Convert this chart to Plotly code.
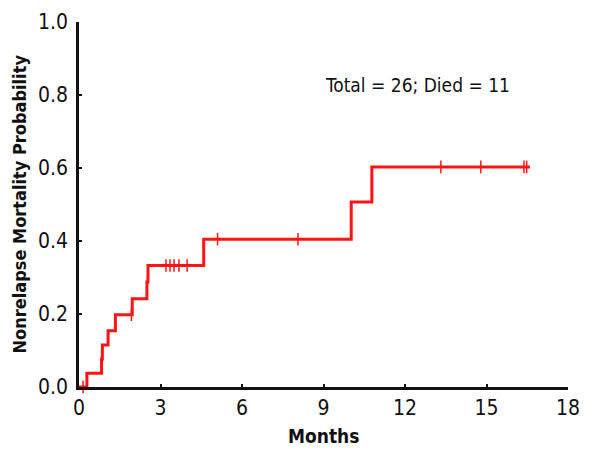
import plotly.graph_objects as go

# Step curve (event times in months, cumulative nonrelapse mortality probability)
event_months = [0, 0.29, 0.83, 0.86, 1.07, 1.34, 1.96, 2.50, 2.54, 4.59, 10.02, 10.78, 16.6]
event_prob = [0, 0.038, 0.077, 0.115, 0.154, 0.198, 0.242, 0.288, 0.333, 0.405, 0.507, 0.603, 0.603]

# Censored observations (months)
censor_months = [0.15, 1.93, 3.2, 3.35, 3.5, 3.68, 3.98, 5.10, 8.06, 13.32, 14.79, 16.38, 16.48]

x_ticks = [0, 3, 6, 9, 12, 15, 18]
y_ticks = [0.0, 0.2, 0.4, 0.6, 0.8, 1.0]
annotation_text = "Total = 26; Died = 11"
x_title = "Months"
y_title = "Nonrelapse Mortality Probability"


def level_at(t):
    val = event_prob[0]
    for et, ep in zip(event_months, event_prob):
        if et <= t:
            val = ep
    return val


censor_prob = [level_at(t) for t in censor_months]

RED = "#ff1414"
FONT = "Liberation Sans Narrow, DejaVu Sans Condensed, Arial Narrow, sans-serif"

# page has an 8px body margin; figure coordinates below are offset accordingly
ML, MT, PW, PH = 71, 14, 489, 365
W, H = 602, 459
MR = W - ML - PW
MB = H - MT - PH

fig = go.Figure()
fig.add_trace(go.Scatter(
    x=event_months, y=event_prob, mode="lines", line_shape="hv",
    line=dict(color=RED, width=3), cliponaxis=False, showlegend=False,
    hoverinfo="skip"))
fig.add_trace(go.Scatter(
    x=censor_months, y=censor_prob, mode="markers",
    marker=dict(symbol="line-ns", size=9, line=dict(color=RED, width=1.5)),
    cliponaxis=False, showlegend=False))

fig.add_annotation(x=12.45, y=0.828, xref="x", yref="y", text=annotation_text,
                   showarrow=False, xanchor="center", yanchor="middle",
                   font=dict(family=FONT, size=19, color="#111"))

# axis titles as annotations for exact placement (pixel targets converted to paper coords)
fig.add_annotation(x=0.5, y=-((435.5 - 8) - (MT + PH)) / PH, xref="paper", yref="paper",
                   text=f"<b>{x_title}</b>", showarrow=False,
                   xanchor="center", yanchor="middle",
                   font=dict(family=FONT, size=19, color="#111"))
fig.add_annotation(x=-(ML - (19 - 8)) / PW, y=0.5, xref="paper", yref="paper",
                   text=f"<b>{y_title}</b>", showarrow=False, textangle=-90,
                   xanchor="center", yanchor="middle",
                   font=dict(family=FONT, size=18, color="#111"))

fig.update_layout(
    width=W, height=H,
    margin=dict(l=ML, r=MR, t=MT, b=MB),
    paper_bgcolor="white", plot_bgcolor="white",
    font=dict(family=FONT, color="#111"),
)

fig.update_xaxes(
    range=[0, 18], tickvals=x_ticks, ticktext=[str(v) for v in x_ticks],
    showgrid=False, zeroline=False, showline=True, linecolor="#111", linewidth=2.5,
    ticks="inside", ticklen=3, tickwidth=2, tickcolor="#111",
    tickfont=dict(size=21, family=FONT), automargin=False,
)
fig.update_yaxes(
    range=[0, 1], tickvals=y_ticks, ticktext=[f"{v:.1f}" for v in y_ticks],
    showgrid=False, zeroline=False, showline=True, linecolor="#111", linewidth=2.5,
    ticks="inside", ticklen=3, tickwidth=2, tickcolor="#111",
    tickfont=dict(size=21, family=FONT), automargin=False, ticklabelstandoff=4,
)

fig.write_html("out.html")
